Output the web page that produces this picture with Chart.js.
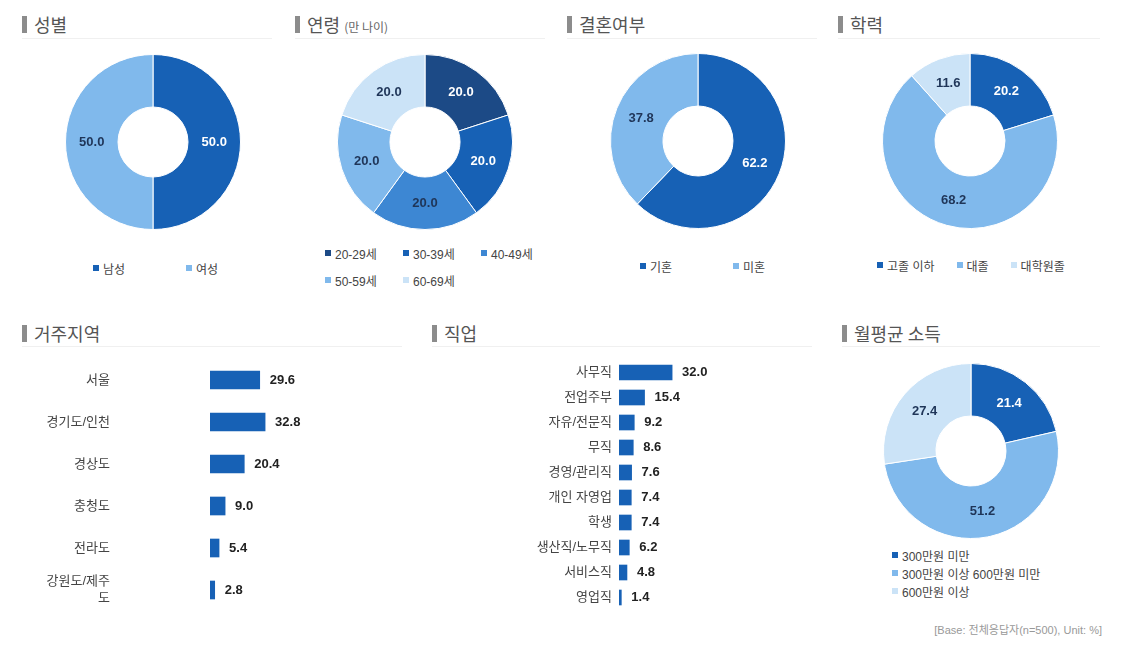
<!DOCTYPE html>
<html>
<head>
<meta charset="utf-8">
<script src="https://cdn.jsdelivr.net/npm/chart.js@4.4.1/dist/chart.umd.min.js"></script>
<style>
  body { margin: 0; background: #fff; width: 1124px; height: 672px; position: relative; overflow: hidden;
         font-family: 'Liberation Sans', 'Noto Sans CJK KR', sans-serif; }
  .title { position: absolute; font-family: 'Noto Sans CJK KR', sans-serif; font-size: 18px; color: #555;
           height: 22px; line-height: 22px; padding-left: 12px; white-space: nowrap; }
  .title:before { content: ''; position: absolute; left: 0; top: 3px; width: 5px; height: 17px; background: #8c8c8c; }
  .title small { font-size: 12px; color: #666; }
  .rule { position: absolute; height: 1px; background: #f0f0f0; }
  canvas { position: absolute; }
  .legend { position: absolute; font-size: 12px; color: #444; display: flex; flex-wrap: wrap; }
  .legend .it { display: flex; align-items: center; height: 20px; white-space: nowrap; }
  .legend .sw { width: 6px; height: 6px; margin-right: 4px; }
  #lg1 .it, #lg3 .it { width: 93px; }
  #lg2 { width: 240px; row-gap: 7px; }
  #lg2 .it { width: 78px; }
  #lg4 .it { margin-right: 22px; }
  #lg5 { flex-direction: column; }
  #lg5 .it { height: 18px; }
  .note { position: absolute; right: 22px; top: 621px; font-size: 11px; color: #999; }
</style>
</head>
<body>
<div class="title" style="left:22px;top:13px">성별</div>
<div class="title" style="left:295px;top:13px">연령 <small>(만 나이)</small></div>
<div class="title" style="left:567px;top:13px">결혼여부</div>
<div class="title" style="left:838px;top:13px">학력</div>
<div class="title" style="left:22px;top:322px">거주지역</div>
<div class="title" style="left:432px;top:322px">직업</div>
<div class="title" style="left:842px;top:322px">월평균 소득</div>

<div class="rule" style="left:22px;top:38px;width:250px"></div>
<div class="rule" style="left:295px;top:38px;width:250px"></div>
<div class="rule" style="left:567px;top:38px;width:250px"></div>
<div class="rule" style="left:838px;top:38px;width:262px"></div>
<div class="rule" style="left:22px;top:346px;width:380px"></div>
<div class="rule" style="left:432px;top:346px;width:380px"></div>
<div class="rule" style="left:842px;top:346px;width:258px"></div>

<canvas id="cGender" width="176" height="176" style="left:65px;top:54px"></canvas>
<canvas id="cAge" width="176" height="176" style="left:337px;top:54px"></canvas>
<canvas id="cMarriage" width="176" height="176" style="left:610px;top:53px"></canvas>
<canvas id="cEdu" width="176" height="176" style="left:882px;top:53px"></canvas>
<canvas id="cIncome" width="176" height="176" style="left:883px;top:363px"></canvas>
<canvas id="cRegion" width="400" height="252" style="left:0px;top:359px"></canvas>
<canvas id="cJob" width="380" height="250" style="left:440px;top:360px"></canvas>

<div class="legend" id="lg1" style="left:93px;top:258px"></div>
<div class="legend" id="lg2" style="left:325px;top:243px"></div>
<div class="legend" id="lg3" style="left:640px;top:256px"></div>
<div class="legend" id="lg4" style="left:877px;top:255px"></div>
<div class="legend" id="lg5" style="left:892px;top:546px"></div>
<div class="note">[Base: 전체응답자(n=500), Unit: %]</div>

<script>
// ---- data ----
const genderLabels = ['남성', '여성'];
const genderValues = [50.0, 50.0];

const ageLabels = ['20-29세', '30-39세', '40-49세', '50-59세', '60-69세'];
const ageValues = [20.0, 20.0, 20.0, 20.0, 20.0];

const marriageLabels = ['기혼', '미혼'];
const marriageValues = [62.2, 37.8];

const eduLabels = ['고졸 이하', '대졸', '대학원졸'];
const eduValues = [20.2, 68.2, 11.6];

const regionLabels = ['서울', '경기도/인천', '경상도', '충청도', '전라도', ['강원도/제주', '도']];
const regionValues = [29.6, 32.8, 20.4, 9.0, 5.4, 2.8];

const jobLabels = ['사무직', '전업주부', '자유/전문직', '무직', '경영/관리직', '개인 자영업', '학생', '생산직/노무직', '서비스직', '영업직'];
const jobValues = [32.0, 15.4, 9.2, 8.6, 7.6, 7.4, 7.4, 6.2, 4.8, 1.4];

const incomeLabels = ['300만원 미만', '300만원 이상 600만원 미만', '600만원 이상'];
const incomeValues = [21.4, 51.2, 27.4];

// ---- colours ----
const BLUE = '#1761b5', NAVY = '#1c4a86', MID = '#3d87d3', LIGHT = '#80b9ec', PALE = '#cbe3f7';
const WHITE = '#ffffff', INK = '#1f3558';
const FONT = "'Liberation Sans', 'Noto Sans CJK KR', sans-serif";

// value labels on donut slices
const arcLabels = {
  id: 'arcLabels',
  afterDatasetsDraw(chart, args, opts) {
    const ctx = chart.ctx;
    const ds = chart.data.datasets[0];
    ctx.save();
    ctx.font = 'bold 13px ' + FONT;
    ctx.textAlign = 'center';
    ctx.textBaseline = 'middle';
    chart.getDatasetMeta(0).data.forEach((arc, i) => {
      const p = arc.tooltipPosition();
      ctx.fillStyle = opts.colors[i];
      ctx.fillText(ds.data[i].toFixed(1), p.x, p.y);
    });
    ctx.restore();
  }
};

// value labels at bar ends
const barValues = {
  id: 'barValues',
  afterDatasetsDraw(chart) {
    const ctx = chart.ctx;
    const ds = chart.data.datasets[0];
    ctx.save();
    ctx.font = 'bold 13px ' + FONT;
    ctx.fillStyle = '#222';
    ctx.textAlign = 'left';
    ctx.textBaseline = 'middle';
    chart.getDatasetMeta(0).data.forEach((bar, i) => {
      ctx.fillText(ds.data[i].toFixed(1), bar.x + 10, bar.y);
    });
    ctx.restore();
  }
};

function makeDonut(id, labels, values, colors, textColors) {
  new Chart(document.getElementById(id), {
    type: 'doughnut',
    data: { labels: labels, datasets: [{ data: values, backgroundColor: colors, borderColor: '#fff', borderWidth: 1, hoverOffset: 0 }] },
    options: {
      responsive: false, animation: false, events: [], cutout: '40%',
      plugins: { legend: { display: false }, tooltip: { enabled: false }, arcLabels: { colors: textColors } }
    },
    plugins: [arcLabels]
  });
}

function makeBars(id, labels, values, o) {
  new Chart(document.getElementById(id), {
    type: 'bar',
    data: { labels: labels, datasets: [{ data: values, backgroundColor: BLUE, barThickness: o.thick }] },
    options: {
      indexAxis: 'y', responsive: false, animation: false, events: [],
      layout: { padding: { right: o.padRight } },
      plugins: { legend: { display: false }, tooltip: { enabled: false } },
      scales: {
        x: { display: false, min: 0, max: 100 },
        y: {
          grid: { display: false, drawTicks: false }, border: { display: false },
          ticks: { autoSkip: false, padding: o.tickPad, color: '#444', font: { size: 13, family: FONT, lineHeight: 1.35 } },
          afterFit(axis) {
            // fixed axis width; tick padding must not shrink the plot vertically
            axis.width = o.axisWidth;
            axis.paddingTop = 0;
            axis.paddingBottom = 0;
          }
        }
      }
    },
    plugins: [barValues]
  });
}

function makeLegend(id, labels, colors) {
  document.getElementById(id).innerHTML = labels.map((l, i) =>
    `<div class="it"><span class="sw" style="background:${colors[i]}"></span>${l}</div>`).join('');
}

const c2 = [BLUE, LIGHT];
const c3 = [BLUE, LIGHT, PALE];
const c5 = [NAVY, BLUE, MID, LIGHT, PALE];

makeDonut('cGender', genderLabels, genderValues, c2, [WHITE, INK]);
makeDonut('cAge', ageLabels, ageValues, c5, [WHITE, WHITE, INK, INK, INK]);
makeDonut('cMarriage', marriageLabels, marriageValues, c2, [WHITE, INK]);
makeDonut('cEdu', eduLabels, eduValues, c3, [WHITE, INK, INK]);
makeDonut('cIncome', incomeLabels, incomeValues, c3, [WHITE, INK, INK]);

makeBars('cRegion', regionLabels, regionValues, { thick: 18, padRight: 22, tickPad: 100, axisWidth: 210 });
makeBars('cJob', jobLabels, jobValues, { thick: 15, padRight: 35, tickPad: 7, axisWidth: 179 });

makeLegend('lg1', genderLabels, c2);
makeLegend('lg2', ageLabels, c5);
makeLegend('lg3', marriageLabels, c2);
makeLegend('lg4', eduLabels, c3);
makeLegend('lg5', incomeLabels, c3);
</script>
</body>
</html>
